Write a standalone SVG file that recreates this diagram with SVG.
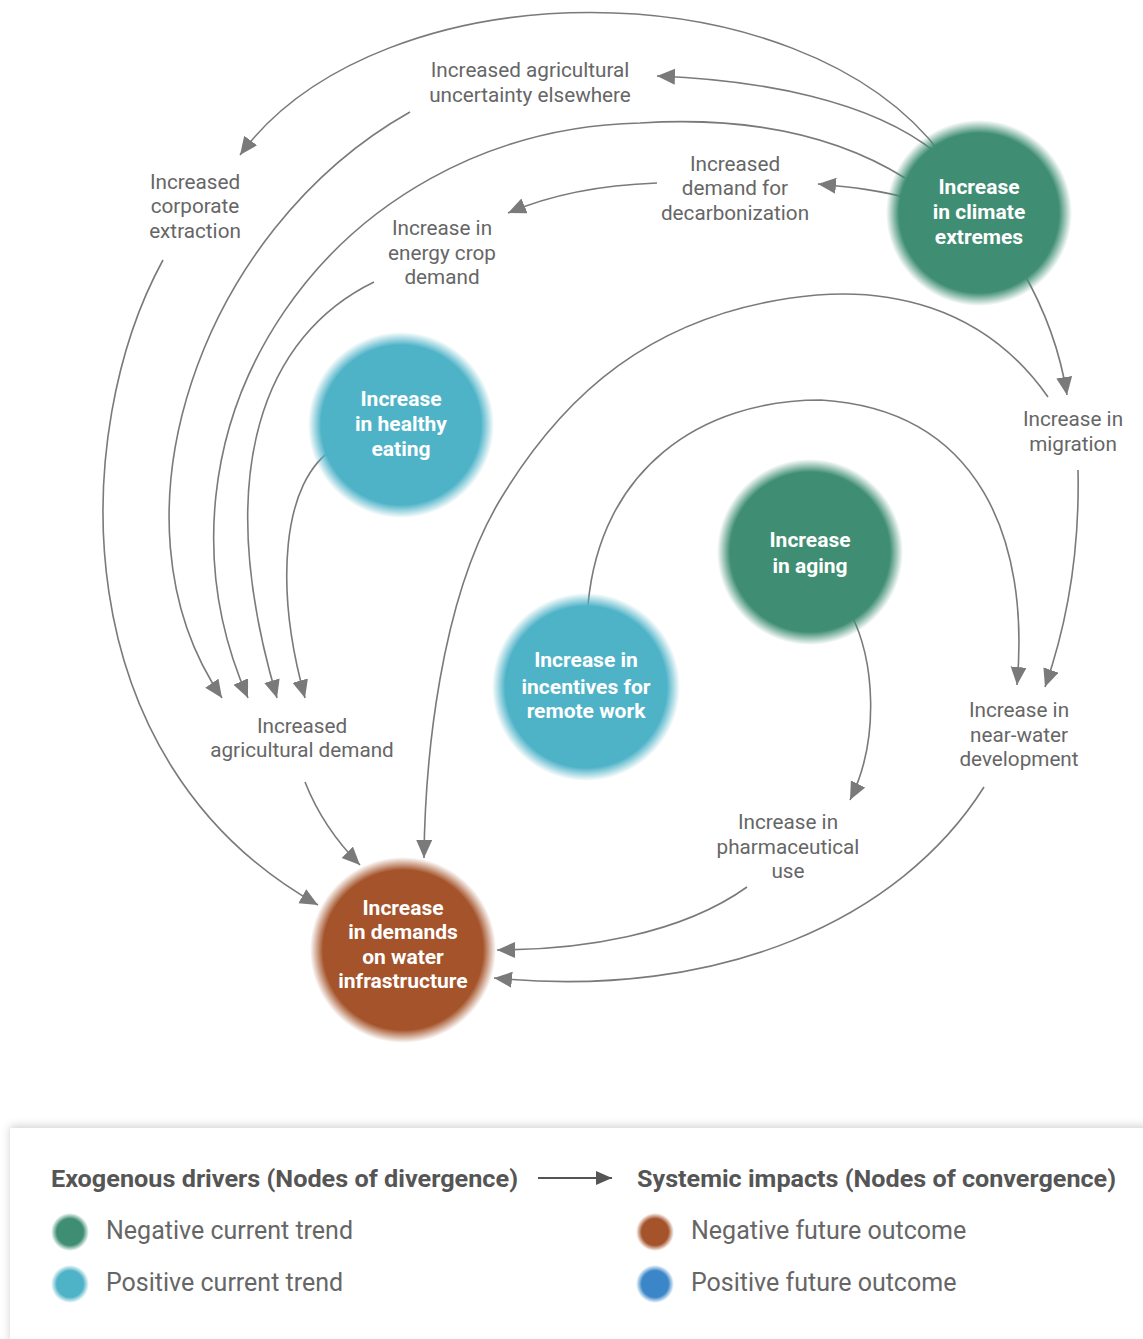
<svg xmlns="http://www.w3.org/2000/svg" width="1143" height="1339" viewBox="0 0 1143 1339">
<defs>
<radialGradient id="gGreen"><stop offset="0" stop-color="#3f8e73"/><stop offset="0.86" stop-color="#3f8e73"/><stop offset="1" stop-color="#3f8e73" stop-opacity="0"/></radialGradient>
<radialGradient id="gBlue"><stop offset="0" stop-color="#4fb3c8"/><stop offset="0.86" stop-color="#4fb3c8"/><stop offset="1" stop-color="#4fb3c8" stop-opacity="0"/></radialGradient>
<radialGradient id="gBrown"><stop offset="0" stop-color="#a4532a"/><stop offset="0.86" stop-color="#a4532a"/><stop offset="1" stop-color="#a4532a" stop-opacity="0"/></radialGradient>
<radialGradient id="gDark"><stop offset="0" stop-color="#3a86c8"/><stop offset="0.7" stop-color="#3a86c8"/><stop offset="1" stop-color="#3a86c8" stop-opacity="0"/></radialGradient>
<radialGradient id="gGreenS"><stop offset="0" stop-color="#3f8e73"/><stop offset="0.7" stop-color="#3f8e73"/><stop offset="1" stop-color="#3f8e73" stop-opacity="0"/></radialGradient>
<radialGradient id="gBlueS"><stop offset="0" stop-color="#4fb3c8"/><stop offset="0.7" stop-color="#4fb3c8"/><stop offset="1" stop-color="#4fb3c8" stop-opacity="0"/></radialGradient>
<radialGradient id="gBrownS"><stop offset="0" stop-color="#a4532a"/><stop offset="0.7" stop-color="#a4532a"/><stop offset="1" stop-color="#a4532a" stop-opacity="0"/></radialGradient>
<marker id="ah" markerUnits="userSpaceOnUse" markerWidth="20" markerHeight="18" refX="18" refY="8" orient="auto"><path d="M0,0 L18,8 L0,16 z" fill="#7a7a7a"/></marker>
<marker id="ahL" markerUnits="userSpaceOnUse" markerWidth="18" markerHeight="16" refX="16" refY="7" orient="auto"><path d="M0,0 L16,7 L0,14 z" fill="#555"/></marker>
<filter id="sh" x="-5%" y="-20%" width="110%" height="140%"><feDropShadow dx="0" dy="-2" stdDeviation="4" flood-color="#000" flood-opacity="0.18"/></filter>
</defs>
<style>
.c{fill:none;stroke:#7a7a7a;stroke-width:1.6;marker-end:url(#ah)}
.lbl{font-family:Roboto,"Liberation Sans",sans-serif;font-size:20.7px;fill:#666;text-anchor:middle}
.nt{font-family:Roboto,"Liberation Sans",sans-serif;font-size:21px;font-weight:bold;fill:#fff;text-anchor:middle}
.lh{font-family:Roboto,"Liberation Sans",sans-serif;font-size:23px;font-weight:bold;fill:#555}
.lt{font-family:Roboto,"Liberation Sans",sans-serif;font-size:25px;fill:#666}
</style>
<rect width="1143" height="1339" fill="#fff"/>

<g id="connectors">
<path class="c" d="M935 152 C870 100 760 80 657 76"/>
<path class="c" d="M942 155 C800 -35 380 -35 240 155"/>
<path class="c" d="M410 112 C200 230 100 520 222 698"/>
<path class="c" d="M905 178 C820 125 720 118 640 123 C330 130 130 430 248 698"/>
<path class="c" d="M374 282 C265 335 210 470 277 698"/>
<path class="c" d="M336 447 C280 480 275 590 305 698"/>
<path class="c" d="M163 260 C70 430 60 760 318 905"/>
<path class="c" d="M915 200 C880 190 850 187 818 184"/>
<path class="c" d="M657 183 C600 185 550 195 508 213"/>
<path class="c" d="M1022 270 C1045 310 1060 350 1067 395"/>
<path class="c" d="M1078 470 C1080 560 1065 630 1045 687"/>
<path class="c" d="M1048 397 C980 300 880 290 817 295 C650 310 560 400 500 500 C440 600 425 760 424 858"/>
<path class="c" d="M588 605 C600 470 700 400 821 400 C980 410 1030 540 1017 685"/>
<path class="c" d="M850 612 C875 660 880 740 850 800"/>
<path class="c" d="M747 887 C680 935 580 950 497 950"/>
<path class="c" d="M984 787 C900 920 720 1000 494 978"/>
<path class="c" d="M305 782 C318 815 335 840 360 865"/>
</g>

<g id="n-climate">
<circle cx="979" cy="213" r="93" fill="url(#gGreen)"/>
<text class="nt" x="979" y="194">Increase</text>
<text class="nt" x="979" y="219">in climate</text>
<text class="nt" x="979" y="244">extremes</text>
</g>
<g id="n-healthy">
<circle cx="401" cy="425" r="93" fill="url(#gBlue)"/>
<text class="nt" x="401" y="406">Increase</text>
<text class="nt" x="401" y="431">in healthy</text>
<text class="nt" x="401" y="456">eating</text>
</g>
<g id="n-aging">
<circle cx="810" cy="552" r="93" fill="url(#gGreen)"/>
<text class="nt" x="810" y="547">Increase</text>
<text class="nt" x="810" y="573">in aging</text>
</g>
<g id="n-remote">
<circle cx="586" cy="687" r="94" fill="url(#gBlue)"/>
<text class="nt" x="586" y="667">Increase in</text>
<text class="nt" x="586" y="694">incentives for</text>
<text class="nt" x="586" y="718">remote work</text>
</g>
<g id="n-water">
<circle cx="403" cy="950" r="93" fill="url(#gBrown)"/>
<text class="nt" x="403" y="915">Increase</text>
<text class="nt" x="403" y="939">in demands</text>
<text class="nt" x="403" y="964">on water</text>
<text class="nt" x="403" y="988">infrastructure</text>
</g>

<g id="l-uncertainty"><text class="lbl" x="530" y="77">Increased agricultural</text><text class="lbl" x="530" y="102">uncertainty elsewhere</text></g>
<g id="l-corporate"><text class="lbl" x="195" y="189">Increased</text><text class="lbl" x="195" y="213">corporate</text><text class="lbl" x="195" y="238">extraction</text></g>
<g id="l-decarb"><text class="lbl" x="735" y="171">Increased</text><text class="lbl" x="735" y="195">demand for</text><text class="lbl" x="735" y="220">decarbonization</text></g>
<g id="l-energy"><text class="lbl" x="442" y="235">Increase in</text><text class="lbl" x="442" y="260">energy crop</text><text class="lbl" x="442" y="284">demand</text></g>
<g id="l-migration"><text class="lbl" x="1073" y="426">Increase in</text><text class="lbl" x="1073" y="451">migration</text></g>
<g id="l-agdemand"><text class="lbl" x="302" y="733">Increased</text><text class="lbl" x="302" y="757">agricultural demand</text></g>
<g id="l-nearwater"><text class="lbl" x="1019" y="717">Increase in</text><text class="lbl" x="1019" y="742">near-water</text><text class="lbl" x="1019" y="766">development</text></g>
<g id="l-pharma"><text class="lbl" x="788" y="829">Increase in</text><text class="lbl" x="788" y="854">pharmaceutical</text><text class="lbl" x="788" y="878">use</text></g>

<g id="legend">
<rect x="10" y="1128" width="1140" height="220" fill="#fff" filter="url(#sh)"/>
<text class="lh" x="51" y="1187" textLength="467" lengthAdjust="spacingAndGlyphs">Exogenous drivers (Nodes of divergence)</text>
<line x1="538" y1="1178" x2="612" y2="1178" stroke="#555" stroke-width="2" marker-end="url(#ahL)"/>
<text class="lh" x="637" y="1187" textLength="479" lengthAdjust="spacingAndGlyphs">Systemic impacts (Nodes of convergence)</text>
<circle cx="70" cy="1232" r="19" fill="url(#gGreenS)"/>
<text class="lt" x="106" y="1239">Negative current trend</text>
<circle cx="70" cy="1284" r="19" fill="url(#gBlueS)"/>
<text class="lt" x="106" y="1291">Positive current trend</text>
<circle cx="655" cy="1232" r="19" fill="url(#gBrownS)"/>
<text class="lt" x="691" y="1239">Negative future outcome</text>
<circle cx="655" cy="1284" r="19" fill="url(#gDark)"/>
<text class="lt" x="691" y="1291">Positive future outcome</text>
</g>
</svg>
